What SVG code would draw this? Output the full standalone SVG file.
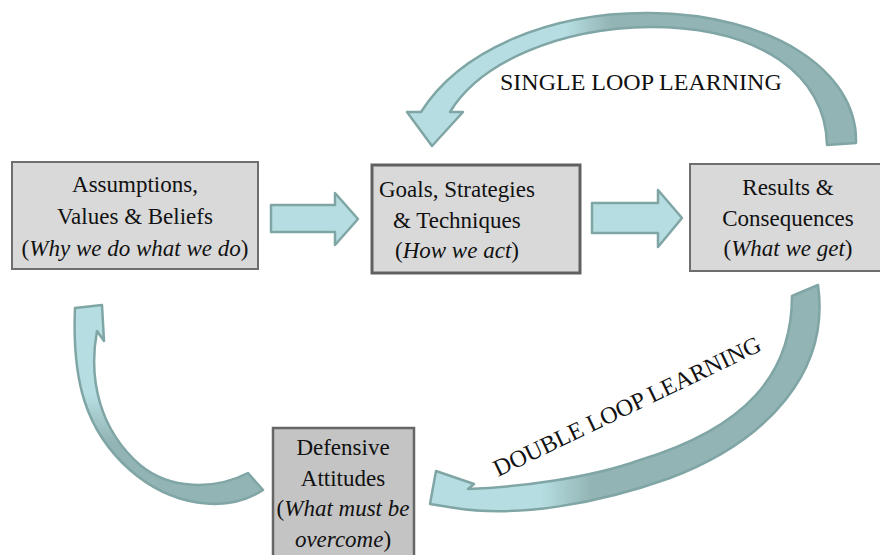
<svg xmlns="http://www.w3.org/2000/svg" width="880" height="555" viewBox="0 0 880 555">
<style>
.box{fill:#d9d9d9;stroke:#6e6e6e;stroke-width:2}
.box2{fill:#d9d9d9;stroke:#606060;stroke-width:3}
.box4{fill:#c4c4c4;stroke:#666;stroke-width:2.5}
text{font-family:"Liberation Serif","Times New Roman",serif;fill:#111}
.ntx{font-size:23px}
.mid{text-anchor:middle}
.it{font-style:italic}
.lab{font-size:24px}
.arr{stroke:#80a5a5;stroke-width:2.5;stroke-linejoin:round}
</style>
<defs>
<linearGradient id="gS" gradientUnits="userSpaceOnUse" x1="400" y1="0" x2="860" y2="0">
<stop offset="0" stop-color="#b6dee2"/><stop offset="0.36" stop-color="#b6dee2"/><stop offset="0.46" stop-color="#93b4b4"/><stop offset="1" stop-color="#93b4b4"/>
</linearGradient>
<linearGradient id="gD" gradientUnits="userSpaceOnUse" x1="420" y1="0" x2="850" y2="0">
<stop offset="0" stop-color="#b6dee2"/><stop offset="0.28" stop-color="#b6dee2"/><stop offset="0.4" stop-color="#93b4b4"/><stop offset="1" stop-color="#93b4b4"/>
</linearGradient>
<linearGradient id="gL" gradientUnits="userSpaceOnUse" x1="0" y1="300" x2="0" y2="510">
<stop offset="0" stop-color="#b6dee2"/><stop offset="0.45" stop-color="#b6dee2"/><stop offset="0.68" stop-color="#93b4b4"/><stop offset="1" stop-color="#93b4b4"/>
</linearGradient>
</defs>

<g id="connectors">
<path class="arr" fill="#b6dee2" d="M271,205 L335,205 L335,193 L358,219 L335,245 L335,232 L271,232 Z"/>
<path class="arr" fill="#b6dee2" d="M592,203 L658,203 L658,190 L682,218 L658,247 L658,233 L592,233 Z"/>
<path class="arr" fill="url(#gS)" d="M856,143 C858,70 770,14 650,13 C550,12 460,50 421,112 L407,112 L432,146 L463,112 L450,112 C480,62 560,28 650,27 C760,27 826,75 827,145 Z"/>
<path class="arr" fill="url(#gD)" d="M792,296 L818,285 C830,370 770,440 670,478 C600,503 520,518 455,508 L430,504 L436,471 L474,484 L468,489 C520,487 590,478 640,460 C745,428 792,375 792,296 Z"/>
<path class="arr" fill="url(#gL)" d="M75,308 L102,305 L104,341 L97,331 C88,380 100,430 140,465 C170,490 215,490 248,473 L263,490 C225,515 170,505 130,470 C85,430 72,380 75,308 Z"/>
<text class="lab" font-family="Liberation Serif, serif" x="500" y="90">SINGLE LOOP LEARNING</text>
<text class="lab" font-family="Liberation Serif, serif" x="498" y="477" transform="rotate(-25.6 498 477)">DOUBLE LOOP LEARNING</text>
</g>

<g id="assumptions" font-family="Liberation Serif, serif">
<rect class="box" x="12" y="162" width="246" height="107"/>
<text class="ntx mid" x="135" y="192">Assumptions,</text>
<text class="ntx mid" x="135" y="224">Values &amp; Beliefs</text>
<text class="ntx mid" x="135" y="256">(<tspan class="it">Why we do what we do</tspan>)</text>
</g>

<g id="goals" font-family="Liberation Serif, serif">
<rect class="box2" x="372" y="165" width="208" height="108"/>
<text class="ntx" x="379" y="197">Goals, Strategies</text>
<text class="ntx" x="393" y="228">&amp; Techniques</text>
<text class="ntx" x="395" y="258">(<tspan class="it">How we act</tspan>)</text>
</g>

<g id="results" font-family="Liberation Serif, serif">
<rect class="box" x="690" y="164" width="196" height="107"/>
<text class="ntx mid" x="788" y="195">Results &amp;</text>
<text class="ntx mid" x="788" y="226">Consequences</text>
<text class="ntx mid" x="788" y="256">(<tspan class="it">What we get</tspan>)</text>
</g>

<g id="defensive" font-family="Liberation Serif, serif">
<rect class="box4" x="273" y="428" width="141" height="140"/>
<text class="ntx mid" x="343" y="455">Defensive</text>
<text class="ntx mid" x="343" y="486">Attitudes</text>
<text class="ntx mid" x="343" y="516">(<tspan class="it">What must be</tspan></text>
<text class="ntx mid" x="343" y="547"><tspan class="it">overcome</tspan>)</text>
</g>
</svg>
